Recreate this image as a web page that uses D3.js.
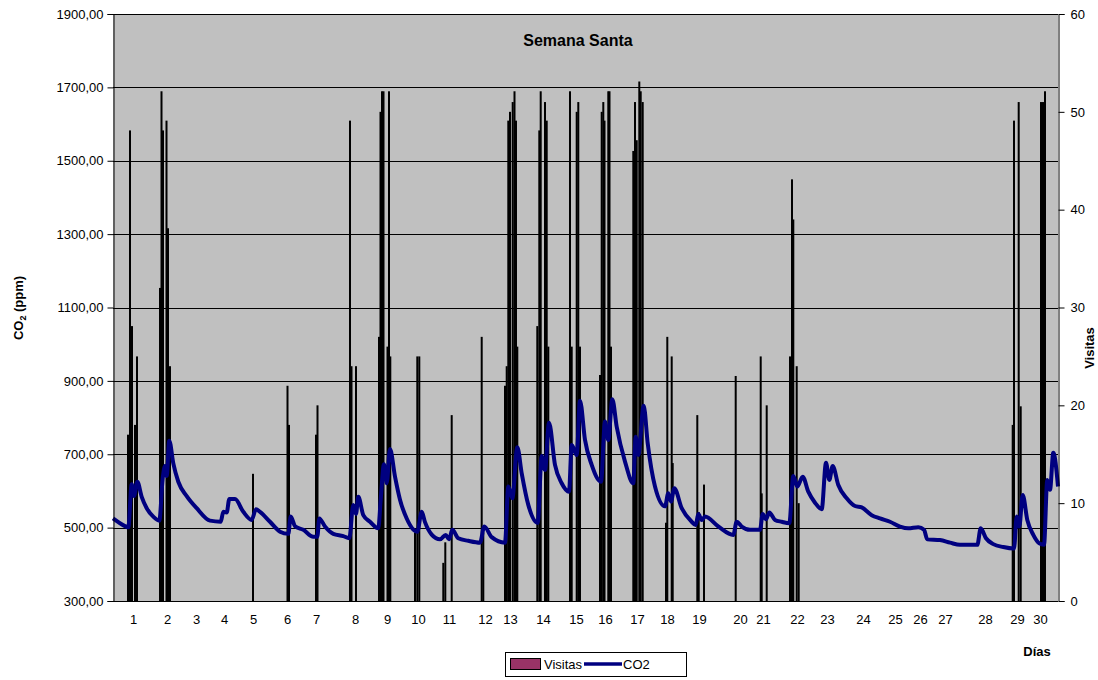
<!DOCTYPE html>
<html>
<head>
<meta charset="utf-8">
<script src="https://cdn.jsdelivr.net/npm/d3@7"></script>
<style>
  html, body { margin: 0; padding: 0; background: #ffffff; }
  svg { display: block; font-family: "Liberation Sans", Arial, sans-serif; }
</style>
</head>
<body>
<svg id="chart" width="1098" height="680"></svg>
<script>
// ---------------- DATA ----------------
// x positions are sample indices along the series (0 .. 945)
const sampleCount = 945;

const dayLabels = ["1","2","3","4","5","6","7","8","9","10","11","12","13","14","15",
                   "16","17","18","19","20","21","22","23","24","25","26","27","28","29","30"];
const dayPositions = [20,54,83,111,140,174,203,242,274,305,336,372,397,430,463,
                      492,524,554,586,627,650,684,714,750,782,807,832,872,904,927];

// Visitas (bars): sample index and value
const visitIdx = [15,17,19,22,24,
  47,48.5,50,53.5,55,57,
  140,
  174.5,176,
  203,204.5,
  237,238.5,243,
  266,267.5,269,270.5,274.5,276,277.3,
  302,304.3,306.3,
  330.3,332.3,338.7,
  368.7,370.3,
  392,393.7,395.3,397,399.7,401.5,403,404.3,
  424.3,426.3,427.7,432,433.7,435.3,
  457,458.7,463.7,465.3,467,
  487,488.7,490.3,491.5,495.3,496.5,498,
  520.3,522,523.7,526.3,527.7,529.7,
  553,554.3,558.7,559.7,
  584.3,585.7,591,
  622.7,
  647.7,648.7,653.7,
  677,679,680.3,683.7,685.7,
  899.7,901,905.7,907.7,
  928,930,932];
const visitVal = [17,48.1,28.1,18,25,
  32,52.1,48.1,49.1,38.1,24,
  13,
  22,18,
  17,20,
  49.1,24,24,
  27,50,52.1,52.1,26,52.1,25,
  7,25,25,
  3.9,6,19,
  27,7,
  22,24,49.1,50,51,52.1,49.1,26,
  28.1,48.1,52.1,51,49.1,26,
  52.1,26,50,51,26,
  23.1,50,51,49.1,52.1,52.1,26,
  46,51,47.1,53.1,52.1,51,
  8,27,25,14.1,
  19,9.1,11.9,
  23,
  25,11,20,
  25,43.1,39,24,10,
  18,49.1,51,19.9,
  51,51,52.1];

// CO2 (line): sample index and ppm
const co2Idx = [0,7,15.3,18.7,21,24.3,28.7,33.7,40.3,46.3,49.7,52,53.7,56.3,60.3,65.3,73.7,83.7,97,
  107.7,110.3,113.7,116.3,122,130.3,138.7,143,147,157,167,175.3,177.7,182,190.3,200.3,204.3,206.3,
  212,220.3,230.3,236.3,240.3,243,245.3,250.3,257,265.3,267.7,271,273.7,277,282,287,293.7,300.3,
  304.3,308.7,312,318.7,327,332.7,336,339.3,345.3,355.3,367,371.3,378.7,392,395.3,399.3,404.3,
  408.7,415.3,424.7,428.7,432,436,442,448.7,456,458.7,463.7,467,472,478.7,488,492,495.3,499.3,
  503.7,512,520.3,522.7,525.3,530.7,534.7,542,552,555.3,558,561.3,568.7,578.7,582.7,585.3,588.7,
  592,605.3,620.3,623.7,628.7,637,647,649.7,653,656.3,662,668.7,676.3,680.3,684.3,689.7,695.3,
  702,708.7,713,716.3,719.7,725.3,733.7,742,748.7,758.7,767,777,787,795.3,805.3,811,814.3,827,
  837,847,864.3,867.7,873,880.3,890.3,901,903.7,906.3,909.7,914.3,920.3,926.3,931,934.3,937,
  940.3,945];
const co2Val = [525,512,501,618,586,625,584,553,530,519,634,668,641,737,675,625,586,553,519,
  516,543,541,578,578,543,521,550,543,516,489,483,530,504,494,475,475,525,
  503,483,477,471,562,537,584,534,516,498,576,673,621,714,639,576,525,495,
  489,543,515,481,468,480,468,494,471,464,459,503,474,459,612,580,719,
  648,562,513,695,657,786,671,621,598,725,698,846,739,671,625,789,739,850,
  775,680,621,748,698,832,730,612,558,594,571,607,553,516,507,537,521,
  530,503,480,516,503,494,494,537,523,541,521,516,512,641,612,639,598,
  568,550,677,630,668,616,580,559,555,534,525,516,503,498,501,494,468,466,
  459,453,453,498,471,455,447,443,530,503,589,521,480,457,453,630,603,
  704,612];

const co2Ticks = [300,500,700,900,1100,1300,1500,1700,1900];
const visitTicks = [0,10,20,30,40,50,60];

// ---------------- LAYOUT ----------------
const plot = { left: 113, right: 1058, top: 14, bottom: 601 };
const svg = d3.select("#chart");

const x = d3.scaleLinear().domain([0, sampleCount]).range([plot.left, plot.right]);
const yL = d3.scaleLinear().domain([300, 1900]).range([plot.bottom, plot.top]);
const yR = d3.scaleLinear().domain([0, 60]).range([plot.bottom, plot.top]);

// plot background
svg.append("rect")
  .attr("x", plot.left).attr("y", plot.top)
  .attr("width", plot.right - plot.left).attr("height", plot.bottom - plot.top)
  .attr("fill", "#c0c0c0");

// gridlines
svg.append("g").selectAll("line").data(co2Ticks).join("line")
  .attr("x1", plot.left).attr("x2", plot.right)
  .attr("y1", d => Math.round(yL(d)) + 0.5).attr("y2", d => Math.round(yL(d)) + 0.5)
  .attr("stroke", "#000").attr("stroke-width", 1);

// bars
const barW = 2;
const bars = visitIdx.map((d, i) => ({ i: d, v: visitVal[i] }));
svg.append("g").selectAll("rect").data(bars).join("rect")
  .attr("x", d => x(d.i) - (x(barW) - x(0)) / 2)
  .attr("width", x(barW) - x(0))
  .attr("y", d => yR(d.v))
  .attr("height", d => yR(0) - yR(d.v))
  .attr("fill", "#000");

// CO2 line
const pts = co2Idx.map((d, i) => [d, co2Val[i]]);
svg.append("path")
  .datum(pts)
  .attr("fill", "none")
  .attr("stroke", "#000080")
  .attr("stroke-width", 4)
  .attr("stroke-linejoin", "round")
  .attr("d", d3.line().curve(d3.curveMonotoneX).x(d => x(d[0])).y(d => yL(d[1])));

// axes
const fmt = v => d3.format(".2f")(v).replace(".", ",");
const axL = svg.append("g").attr("transform", `translate(${plot.left + 0.5},0)`)
  .call(d3.axisLeft(yL).tickValues(co2Ticks).tickFormat(fmt).tickSize(6).tickPadding(4));
const axR = svg.append("g").attr("transform", `translate(${plot.right + 0.5},0)`)
  .call(d3.axisRight(yR).tickValues(visitTicks).tickFormat(d3.format("d")).tickSize(6).tickPadding(6));
const axB = svg.append("g").attr("transform", `translate(0,${plot.bottom + 0.5})`)
  .call(d3.axisBottom(x).tickValues(dayPositions).tickFormat((d, i) => dayLabels[i]).tickSize(0).tickPadding(13));
axB.select(".domain").attr("d", `M${plot.left},0H${plot.right}`);

[axL, axR, axB].forEach(a => {
  a.selectAll("text").attr("font-size", 13).attr("fill", "#000")
    .attr("font-family", "'Liberation Sans', Arial, sans-serif");
  a.selectAll("path, line").attr("stroke", "#000");
});

// title
svg.append("text").attr("x", 578).attr("y", 46).attr("text-anchor", "middle")
  .attr("font-size", 16).attr("font-weight", "bold").text("Semana Santa");

// left axis title with subscript
const lt = svg.append("text").attr("transform", "translate(23,308) rotate(-90)")
  .attr("text-anchor", "middle").attr("font-size", 13).attr("font-weight", "bold");
lt.append("tspan").text("CO");
lt.append("tspan").attr("font-size", 9).attr("dy", 3).text("2");
lt.append("tspan").attr("dy", -3).text(" (ppm)");

// right axis title
svg.append("text").attr("transform", "translate(1094,348) rotate(-90)")
  .attr("text-anchor", "middle").attr("font-size", 13).attr("font-weight", "bold").text("Visitas");

// x axis title
svg.append("text").attr("x", 1037).attr("y", 656).attr("text-anchor", "middle")
  .attr("font-size", 13).attr("font-weight", "bold").text("Días");

// legend
const lg = svg.append("g");
lg.append("rect").attr("x", 505.5).attr("y", 652.5).attr("width", 181).attr("height", 24)
  .attr("fill", "#fff").attr("stroke", "#000");
lg.append("rect").attr("x", 510.5).attr("y", 658.5).attr("width", 30).attr("height", 11)
  .attr("fill", "#993366").attr("stroke", "#000");
lg.append("text").attr("x", 544).attr("y", 669).attr("font-size", 13).text("Visitas");
lg.append("line").attr("x1", 584).attr("x2", 622).attr("y1", 664).attr("y2", 664)
  .attr("stroke", "#000080").attr("stroke-width", 3.5);
lg.append("text").attr("x", 623).attr("y", 669).attr("font-size", 13).text("CO2");
</script>
</body>
</html>
